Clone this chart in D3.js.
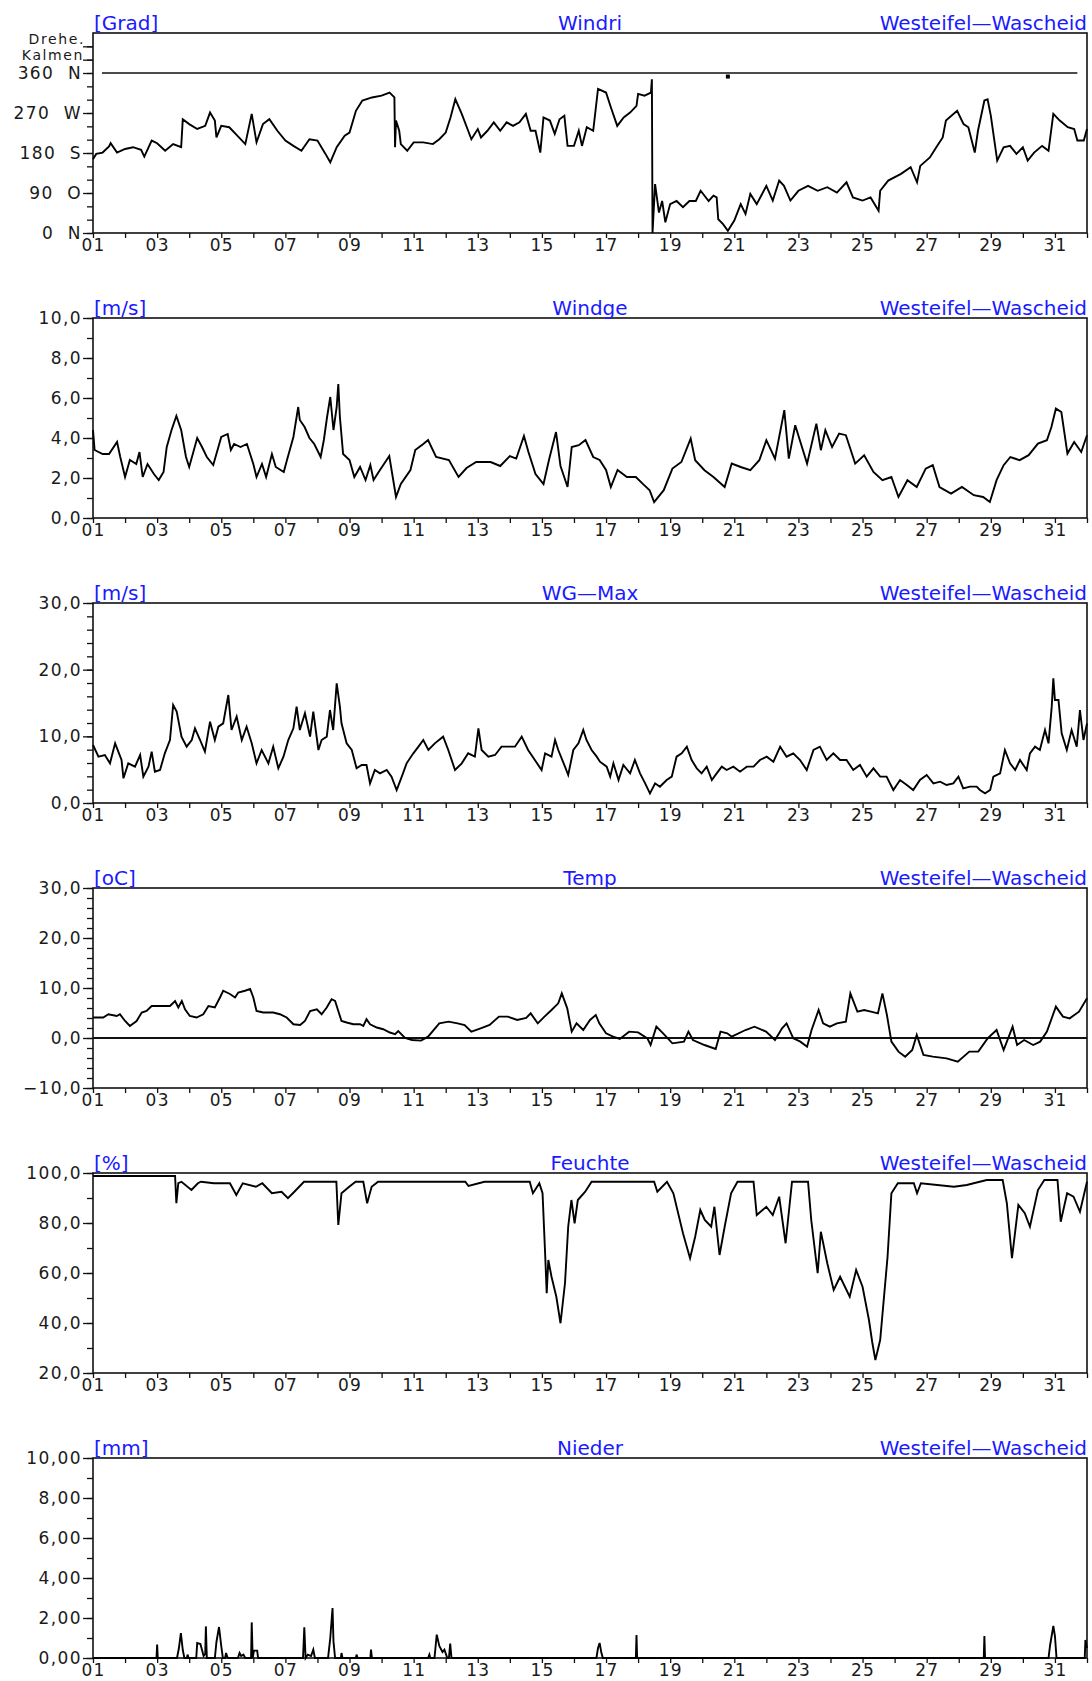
<!DOCTYPE html>
<html><head><meta charset="utf-8">
<script src="https://cdn.jsdelivr.net/npm/d3@7"></script>
<style>
body{margin:0;background:#fff;}
svg text{font-family:"DejaVu Sans",sans-serif;}
</style></head><body>
<svg id="c" width="1092" height="1681"></svg>
<script>
// ---------- data ----------
const station = "Westeifel\u2014Wascheid";
const titles = ["Windri","Windge","WG-Max","Temp","Feuchte","Nieder"];
const units = ["[Grad]","[m/s]","[m/s]","[oC]","[%]","[mm]"];
const dayTicks = d3.range(1,33);
const dayLabels = d3.range(1,32,2);
const windriLabels = [[0,"0\u00a0\u00a0N"],[90,"90\u00a0\u00a0O"],[180,"180\u00a0\u00a0S"],[270,"270\u00a0\u00a0W"],[360,"360\u00a0\u00a0N"],[390,"Kalmen"],[420,"Drehe."]];

const windri = [[1.0,166],[1.1,178],[1.3,181],[1.5,195],[1.55,202],[1.75,181],[2.0,189],[2.25,193],[2.5,187],[2.6,172],[2.83,208],[3.0,202],[3.25,185],[3.5,200],[3.75,193],[3.8,256],[4.0,245],[4.25,234],[4.5,241],[4.65,271],[4.8,253],[4.85,215],[5.0,241],[5.25,238],[5.5,219],[5.75,200],[5.95,268],[6.1,204],[6.3,245],[6.5,256],[6.75,230],[7.0,208],[7.25,196],[7.5,185],[7.75,211],[8.0,208],[8.25,178],[8.4,159],[8.6,193],[8.85,219],[9.0,226],[9.2,275],[9.4,298],[9.7,305],[10.0,309],[10.25,316],[10.4,305],[10.42,193],[10.45,253],[10.55,230],[10.6,200],[10.8,185],[11.0,204],[11.3,204],[11.6,200],[11.8,211],[12.0,226],[12.15,260],[12.3,301],[12.5,268],[12.7,230],[12.8,211],[13.0,234],[13.1,215],[13.3,230],[13.5,249],[13.7,230],[13.9,249],[14.1,241],[14.3,249],[14.5,268],[14.65,230],[14.8,230],[14.95,181],[15.05,260],[15.25,253],[15.4,223],[15.55,256],[15.7,264],[15.8,196],[16.0,196],[16.15,230],[16.25,196],[16.4,238],[16.6,230],[16.75,324],[17.0,316],[17.15,283],[17.35,241],[17.55,260],[17.75,271],[17.95,286],[18.0,313],[18.2,309],[18.4,316],[18.43,346],[18.45,0],[18.53,110],[18.65,46],[18.75,72],[18.85,24],[19.0,65],[19.2,72],[19.4,58],[19.6,72],[19.8,72],[19.95,95],[20.2,72],[20.35,84],[20.45,80],[20.5,31],[20.65,20],[20.8,5],[21.0,28],[21.2,65],[21.35,43],[21.5,88],[21.7,65],[22.0,106],[22.2,73],[22.4,118],[22.55,106],[22.75,73],[23.0,95],[23.3,106],[23.6,95],[23.9,103],[24.2,91],[24.5,114],[24.7,80],[25.0,73],[25.25,80],[25.5,50],[25.55,95],[25.8,118],[26.2,133],[26.5,148],[26.7,114],[26.8,151],[27.1,170],[27.3,193],[27.5,215],[27.6,253],[27.95,275],[28.15,245],[28.3,238],[28.5,181],[28.6,230],[28.8,298],[28.9,301],[29.0,264],[29.2,163],[29.4,193],[29.6,196],[29.8,178],[30.0,193],[30.15,163],[30.35,181],[30.6,196],[30.8,185],[30.95,268],[31.15,253],[31.4,238],[31.6,234],[31.7,208],[31.9,208],[32.0,234]];
const windriRef = [[1.28,360],[31.7,360]];
const windriDot = [[20.8,352]];

const windge = [[1.0,4.4],[1.05,3.4],[1.3,3.2],[1.5,3.2],[1.75,3.8],[1.85,3.05],[2.0,2.05],[2.15,2.9],[2.35,2.7],[2.45,3.3],[2.55,2.05],[2.7,2.7],[2.9,2.2],[3.05,1.9],[3.2,2.3],[3.3,3.55],[3.45,4.4],[3.6,5.1],[3.75,4.4],[3.9,3.05],[4.0,2.55],[4.25,4.0],[4.4,3.55],[4.55,3.05],[4.75,2.65],[5.0,4.05],[5.2,4.2],[5.3,3.4],[5.4,3.7],[5.6,3.55],[5.8,3.7],[6.0,2.7],[6.1,2.05],[6.27,2.7],[6.4,2.05],[6.58,3.2],[6.7,2.55],[6.95,2.3],[7.05,2.9],[7.25,4.05],[7.4,5.55],[7.45,4.9],[7.6,4.55],[7.75,4.0],[7.9,3.7],[8.1,3.05],[8.2,3.9],[8.3,5.05],[8.4,6.05],[8.5,4.4],[8.6,5.55],[8.65,6.7],[8.7,5.05],[8.8,3.2],[9.0,2.9],[9.15,2.05],[9.33,2.55],[9.5,1.9],[9.65,2.65],[9.75,1.9],[9.95,2.4],[10.24,3.1],[10.45,1.05],[10.6,1.7],[10.9,2.4],[11.05,3.4],[11.3,3.7],[11.45,3.9],[11.7,3.05],[12.1,2.9],[12.4,2.05],[12.65,2.5],[12.95,2.8],[13.4,2.8],[13.7,2.6],[14.0,3.1],[14.2,2.97],[14.44,4.1],[14.58,3.3],[14.8,2.2],[15.05,1.7],[15.22,2.9],[15.44,4.3],[15.58,2.6],[15.8,1.55],[15.93,3.55],[16.15,3.64],[16.36,3.9],[16.6,3.05],[16.8,2.9],[17.0,2.4],[17.15,1.55],[17.36,2.4],[17.65,2.05],[17.93,2.05],[18.14,1.72],[18.36,1.39],[18.5,0.8],[18.8,1.39],[19.07,2.47],[19.35,2.8],[19.64,3.97],[19.78,2.89],[20.07,2.39],[20.35,2.05],[20.7,1.55],[20.92,2.72],[21.2,2.55],[21.5,2.39],[21.78,2.89],[22.0,3.89],[22.27,2.97],[22.56,5.39],[22.7,2.97],[22.9,4.64],[23.27,2.72],[23.56,4.72],[23.7,3.39],[23.84,4.39],[24.05,3.55],[24.27,4.22],[24.48,4.14],[24.77,2.72],[25.05,3.14],[25.34,2.3],[25.62,1.89],[25.9,2.05],[26.12,1.05],[26.4,1.89],[26.69,1.55],[26.97,2.47],[27.19,2.64],[27.4,1.55],[27.76,1.22],[28.1,1.55],[28.47,1.14],[28.76,1.05],[28.97,0.8],[29.18,1.89],[29.4,2.64],[29.61,3.05],[29.9,2.89],[30.18,3.14],[30.47,3.72],[30.75,3.89],[30.89,4.55],[31.03,5.47],[31.2,5.3],[31.39,3.22],[31.6,3.8],[31.82,3.3],[32.0,4.14]];

const wgmax = [[1.0,8.7],[1.17,6.95],[1.37,7.2],[1.53,5.95],[1.69,8.95],[1.89,6.45],[1.95,3.7],[2.1,5.95],[2.31,5.45],[2.47,7.2],[2.57,3.95],[2.73,5.45],[2.83,7.7],[2.93,4.7],[3.09,4.95],[3.24,7.45],[3.4,9.45],[3.5,14.7],[3.61,13.7],[3.76,9.95],[3.92,8.45],[4.08,9.45],[4.18,11.2],[4.34,9.45],[4.49,7.7],[4.65,12.2],[4.8,9.45],[4.91,11.45],[5.06,11.95],[5.22,16.2],[5.32,10.95],[5.48,12.95],[5.64,9.45],[5.79,11.45],[5.95,8.95],[6.1,5.95],[6.26,7.95],[6.47,5.95],[6.62,8.45],[6.78,5.2],[6.94,6.95],[7.09,9.45],[7.25,11.2],[7.35,14.45],[7.45,10.95],[7.61,13.45],[7.77,9.95],[7.87,13.7],[8.03,7.95],[8.13,9.45],[8.29,9.95],[8.39,13.95],[8.49,10.95],[8.6,17.95],[8.7,14.45],[8.75,11.95],[8.91,8.95],[9.07,7.95],[9.22,5.2],[9.38,5.7],[9.53,5.7],[9.64,2.95],[9.79,4.95],[9.95,4.45],[10.16,4.95],[10.31,3.95],[10.47,1.95],[10.63,3.95],[10.78,5.95],[10.99,7.45],[11.15,8.45],[11.3,9.45],[11.46,7.95],[11.66,8.95],[11.92,9.95],[12.08,7.95],[12.29,4.95],[12.5,5.95],[12.7,7.45],[12.91,6.95],[13.02,11.2],[13.12,7.95],[13.33,6.95],[13.54,7.2],[13.74,8.45],[13.95,8.45],[14.16,8.45],[14.37,9.95],[14.57,7.95],[14.78,6.45],[14.99,4.95],[15.1,7.45],[15.3,6.95],[15.41,9.45],[15.51,7.95],[15.72,5.45],[15.82,4.2],[15.98,7.95],[16.14,8.95],[16.29,10.95],[16.39,9.45],[16.55,7.95],[16.71,6.95],[16.81,6.2],[17.02,5.45],[17.13,3.95],[17.23,5.95],[17.39,3.45],[17.54,5.7],[17.75,4.45],[17.9,6.45],[18.06,4.45],[18.22,2.95],[18.37,1.45],[18.53,2.95],[18.68,2.45],[18.89,3.45],[19.05,3.95],[19.2,6.95],[19.36,7.45],[19.52,8.45],[19.67,6.45],[19.83,5.2],[19.98,4.45],[20.14,5.45],[20.3,3.45],[20.45,4.45],[20.61,5.45],[20.76,4.95],[20.97,5.45],[21.18,4.7],[21.39,5.45],[21.6,5.45],[21.8,6.45],[22.01,6.95],[22.22,6.2],[22.43,8.45],[22.63,6.95],[22.84,7.45],[23.05,6.45],[23.26,4.95],[23.47,7.95],[23.67,8.45],[23.88,6.45],[24.09,7.45],[24.3,6.45],[24.5,6.45],[24.71,4.95],[24.92,5.7],[25.13,3.95],[25.34,5.2],[25.55,3.95],[25.75,3.95],[25.96,1.95],[26.17,3.45],[26.38,2.7],[26.58,1.95],[26.79,3.45],[27.0,4.2],[27.21,2.95],[27.42,3.2],[27.62,2.7],[27.83,2.95],[27.99,3.95],[28.14,2.2],[28.35,2.45],[28.56,2.45],[28.66,1.95],[28.82,1.45],[28.98,1.95],[29.08,3.95],[29.29,4.45],[29.44,7.95],[29.6,5.95],[29.76,4.95],[29.91,6.45],[30.12,4.95],[30.22,7.45],[30.38,8.45],[30.53,7.95],[30.69,10.95],[30.8,8.95],[30.9,14.45],[30.95,18.7],[31.0,15.45],[31.11,15.45],[31.21,10.45],[31.37,7.95],[31.52,10.95],[31.68,8.45],[31.78,13.95],[31.89,9.45],[32.0,11.95]];

const temp = [[1.0,4.1],[1.32,4.1],[1.48,4.75],[1.74,4.4],[1.84,4.75],[2.0,3.4],[2.15,2.4],[2.36,3.4],[2.52,5.1],[2.67,5.4],[2.83,6.4],[3.09,6.4],[3.4,6.4],[3.56,7.4],[3.66,6.1],[3.77,7.4],[3.87,5.75],[4.02,4.4],[4.23,4.1],[4.44,4.75],[4.6,6.4],[4.8,6.1],[4.96,8.1],[5.06,9.45],[5.27,8.8],[5.43,8.1],[5.53,9.1],[5.74,9.45],[5.9,9.8],[6.0,8.1],[6.1,5.4],[6.31,5.1],[6.62,5.1],[6.83,4.75],[7.04,4.1],[7.25,2.75],[7.46,2.6],[7.61,3.4],[7.77,5.4],[7.98,5.75],[8.13,4.75],[8.29,6.1],[8.44,7.75],[8.55,7.4],[8.65,5.4],[8.75,3.4],[8.91,3.1],[9.12,2.75],[9.33,2.75],[9.43,2.4],[9.53,3.75],[9.64,2.75],[9.85,2.1],[10.05,1.75],[10.26,1.1],[10.42,0.75],[10.52,1.4],[10.73,0],[10.95,-0.4],[11.23,-0.53],[11.45,0.27],[11.8,2.93],[12.09,3.27],[12.37,2.93],[12.59,2.6],[12.8,1.27],[13.09,1.93],[13.37,2.6],[13.66,4.27],[13.94,4.27],[14.23,3.6],[14.51,4.0],[14.65,4.93],[14.87,2.93],[15.08,4.27],[15.3,5.6],[15.51,6.93],[15.62,8.93],[15.79,5.93],[15.93,1.27],[16.08,2.93],[16.29,1.6],[16.5,3.6],[16.68,4.6],[16.79,2.93],[17.0,0.93],[17.22,0.27],[17.43,-0.2],[17.72,1.27],[18.0,1.13],[18.29,-0.07],[18.39,-1.4],[18.57,2.27],[18.78,0.93],[19.07,-1.07],[19.43,-0.73],[19.57,1.27],[19.71,-0.4],[20.07,-1.4],[20.42,-2.2],[20.57,1.27],[20.78,0.93],[20.92,0.27],[21.35,1.6],[21.63,2.27],[21.99,1.27],[22.27,-0.4],[22.49,1.93],[22.63,2.93],[22.84,-0.07],[23.06,-0.73],[23.27,-1.73],[23.41,1.6],[23.63,5.6],[23.77,2.93],[23.98,2.27],[24.2,2.93],[24.48,3.27],[24.62,8.93],[24.84,5.27],[25.05,5.6],[25.26,5.27],[25.48,4.93],[25.62,8.93],[25.76,4.6],[25.9,-0.73],[26.12,-2.73],[26.33,-3.73],[26.55,-2.4],[26.69,0.6],[26.9,-3.4],[27.19,-3.73],[27.62,-4.07],[27.97,-4.73],[28.33,-2.73],[28.61,-2.73],[28.9,-0.07],[29.18,1.6],[29.4,-2.4],[29.68,2.27],[29.82,-1.4],[30.04,-0.4],[30.32,-1.4],[30.54,-0.73],[30.75,1.27],[31.03,6.27],[31.25,4.27],[31.46,3.93],[31.75,5.27],[32.0,7.93]];

const feuchte = [[1.0,98.8],[3.56,98.8],[3.6,87.9],[3.66,95.9],[3.76,96.5],[4.07,93.2],[4.27,95.9],[4.37,96.5],[4.77,95.9],[5.27,95.9],[5.47,91.2],[5.67,95.9],[6.08,94.5],[6.28,95.9],[6.58,91.9],[6.88,92.5],[7.08,89.9],[7.28,92.5],[7.58,96.5],[8.59,96.5],[8.65,79.2],[8.75,91.9],[8.99,94.5],[9.19,96.5],[9.43,96.5],[9.55,87.9],[9.69,94.5],[9.89,96.5],[12.61,96.5],[12.71,94.8],[13.21,96.5],[14.62,96.5],[14.72,91.9],[14.92,95.9],[15.02,91.9],[15.1,67.9],[15.15,51.9],[15.2,65.2],[15.3,58.5],[15.45,50.5],[15.58,39.9],[15.72,55.9],[15.82,78.5],[15.92,89.2],[16.02,79.9],[16.12,89.2],[16.35,92.5],[16.55,96.5],[18.5,96.5],[18.6,92.5],[18.9,96.5],[19.1,91.9],[19.4,75.9],[19.62,65.9],[19.78,74.5],[19.94,85.2],[20.08,81.2],[20.28,78.5],[20.38,86.5],[20.54,67.2],[20.7,78.5],[20.9,91.9],[21.1,96.5],[21.6,96.5],[21.7,83.2],[22.0,86.5],[22.2,83.2],[22.4,90.5],[22.6,71.9],[22.8,96.5],[23.3,96.5],[23.4,81.2],[23.6,59.9],[23.7,76.5],[23.9,63.9],[24.1,53.2],[24.3,58.5],[24.6,50.5],[24.8,61.2],[25.0,54.5],[25.2,41.2],[25.3,32.5],[25.4,25.2],[25.55,33.2],[25.78,66.5],[25.9,91.9],[26.1,95.9],[26.6,95.9],[26.7,91.9],[26.82,95.9],[27.85,94.5],[28.25,95.2],[28.87,97.2],[29.37,97.2],[29.5,87.9],[29.66,65.9],[29.86,87.2],[30.06,83.9],[30.22,78.5],[30.47,93.2],[30.67,97.2],[31.08,97.2],[31.18,80.5],[31.38,91.9],[31.58,90.5],[31.78,84.5],[32.0,96.5]];

const nieder = [[1.0,0],[2.98,0],[3.0,0.67],[3.02,0],[3.62,0],[3.68,0.5],[3.74,1.25],[3.8,0.4],[3.85,0],[3.93,0],[3.95,0.17],[3.98,0],[4.22,0],[4.25,0.75],[4.35,0.7],[4.45,0.1],[4.5,0.2],[4.52,1.58],[4.55,0],[4.8,0],[4.85,0.8],[4.93,1.55],[5.0,0.6],[5.05,0],[5.12,0],[5.15,0.25],[5.2,0],[5.52,0],[5.57,0.25],[5.62,0.1],[5.69,0.17],[5.75,0],[5.93,0],[5.95,1.78],[5.98,0],[6.02,0.37],[6.12,0.37],[6.15,0],[7.55,0],[7.59,1.53],[7.63,0],[7.7,0.17],[7.8,0.1],[7.87,0.42],[7.92,0],[8.33,0],[8.4,1.0],[8.47,2.5],[8.5,0.83],[8.55,0],[8.73,0],[8.75,0.25],[8.78,0],[9.2,0],[9.22,0.17],[9.25,0],[9.65,0],[9.67,0.42],[9.7,0],[11.45,0],[11.49,0.17],[11.52,0],[11.65,0],[11.72,1.17],[11.8,0.6],[11.9,0.3],[11.96,0.42],[12.05,0],[12.1,0],[12.14,0.72],[12.18,0],[16.7,0],[16.75,0.5],[16.8,0.75],[16.85,0.3],[16.9,0],[17.93,0],[17.95,1.15],[17.97,0],[28.78,0],[28.8,1.1],[28.82,0],[30.8,0],[30.85,0.65],[30.95,1.6],[31.0,1.1],[31.05,0],[31.93,0],[31.95,0.9],[32.0,0.5]];

// ---------- layout ----------
const L = 93, R = 1087, PH = 200;
const tops = [33, 318, 603, 888, 1173, 1458];
const BLUE = "#1a1aff";
const comma = f => v => f(v).replace(".", ",").replace("-", "\u2013");

const panels = [
  {data: windri, domain:[0,450], major: windriLabels.map(d=>d[0]), minor: d3.range(0,421,30),
   fmt: v => (windriLabels.find(d=>d[0]===v)||[0,""])[1]},
  {data: windge, domain:[0,10], major: d3.range(0,10.1,2), minor: d3.range(0,10.1,1), fmt: comma(d3.format(".1f"))},
  {data: wgmax, domain:[0,30], major: d3.range(0,30.1,10), minor: d3.range(0,30.1,2), fmt: comma(d3.format(".1f"))},
  {data: temp, domain:[-10,30], major: d3.range(-10,30.1,10), minor: d3.range(-10,30.1,2), fmt: comma(d3.format(".1f")), zero:true},
  {data: feuchte, domain:[20,100], major: d3.range(20,100.1,20), minor: d3.range(20,100.1,10), fmt: comma(d3.format(".1f"))},
  {data: nieder, domain:[0,10], major: d3.range(0,10.1,2), minor: d3.range(0,10.1,1), fmt: comma(d3.format(".2f"))}
];

const svg = d3.select("#c");
const x = d3.scaleLinear().domain([1,32]).range([L,R]);

panels.forEach((p,i) => {
  const t = tops[i], b = t + PH;
  const y = d3.scaleLinear().domain(p.domain).range([b,t]);
  const g = svg.append("g");

  const gm = g.append("g").attr("transform",`translate(${L},0)`)
    .call(d3.axisLeft(y).tickValues(p.minor).tickSize(6).tickSizeOuter(0).tickFormat(""));
  gm.select(".domain").remove();
  const gM = g.append("g").attr("transform",`translate(${L},0)`)
    .call(d3.axisLeft(y).tickValues(p.major).tickSize(10).tickPadding(1).tickSizeOuter(0).tickFormat(p.fmt));
  gM.select(".domain").remove();
  gM.selectAll("text").attr("font-size",17).attr("letter-spacing",1.4).attr("fill","#1a1a1a")
    .attr("font-family","DejaVu Sans");
  if (i===0) {
    gM.selectAll("text").filter(v=>v===390).attr("font-size",14).attr("letter-spacing",1.6).attr("dy","0.3px").attr("x",-9);
    gM.selectAll("text").filter(v=>v===420).attr("font-size",14).attr("letter-spacing",1.6).attr("dy","-3.3px").attr("x",-8);
  }

  const gx = g.append("g").attr("transform",`translate(0,${b})`)
    .call(d3.axisBottom(x).tickValues(dayTicks).tickSize(5).tickPadding(1).tickSizeOuter(0)
      .tickFormat(d => dayLabels.includes(d) ? d3.format("02d")(d) : ""));
  gx.select(".domain").remove();
  gx.selectAll("text").attr("font-size",17).attr("letter-spacing",1.2).attr("fill","#1a1a1a")
    .attr("font-family","DejaVu Sans");

  g.selectAll(".tick line").attr("stroke","#111").attr("stroke-width",1.3);

  g.append("rect").attr("x",L).attr("y",t).attr("width",R-L).attr("height",PH)
    .attr("fill","none").attr("stroke","#111").attr("stroke-width",1.6);

  if (p.zero) {
    g.append("line").attr("x1",L).attr("x2",R).attr("y1",y(0)).attr("y2",y(0))
      .attr("stroke","#111").attr("stroke-width",1.8);
  }

  const line = d3.line().x(d=>x(d[0])).y(d=>y(d[1]));
  if (i===0) {
    g.append("path").datum(windriRef).attr("d",line).attr("fill","none")
      .attr("stroke","#111").attr("stroke-width",1.6);
    g.selectAll(".dot").data(windriDot).join("rect")
      .attr("x",d=>x(d[0])-2).attr("y",d=>y(d[1])-2).attr("width",4).attr("height",4).attr("fill","#000");
  }
  g.append("path").datum(p.data).attr("d",line).attr("fill","none")
    .attr("stroke","#000").attr("stroke-width",1.9).attr("stroke-linejoin","miter");

  const tt = g.append("g").attr("font-size",20).attr("fill",BLUE).attr("font-family","DejaVu Sans");
  tt.append("text").attr("x",L+1).attr("y",t-3).text(units[i]);
  tt.append("text").attr("x",(L+R)/2).attr("y",t-3).attr("text-anchor","middle").text(titles[i].replace("-","\u2014"));
  tt.append("text").attr("x",R).attr("y",t-3).attr("text-anchor","end").text(station);
});
</script>
</body></html>
